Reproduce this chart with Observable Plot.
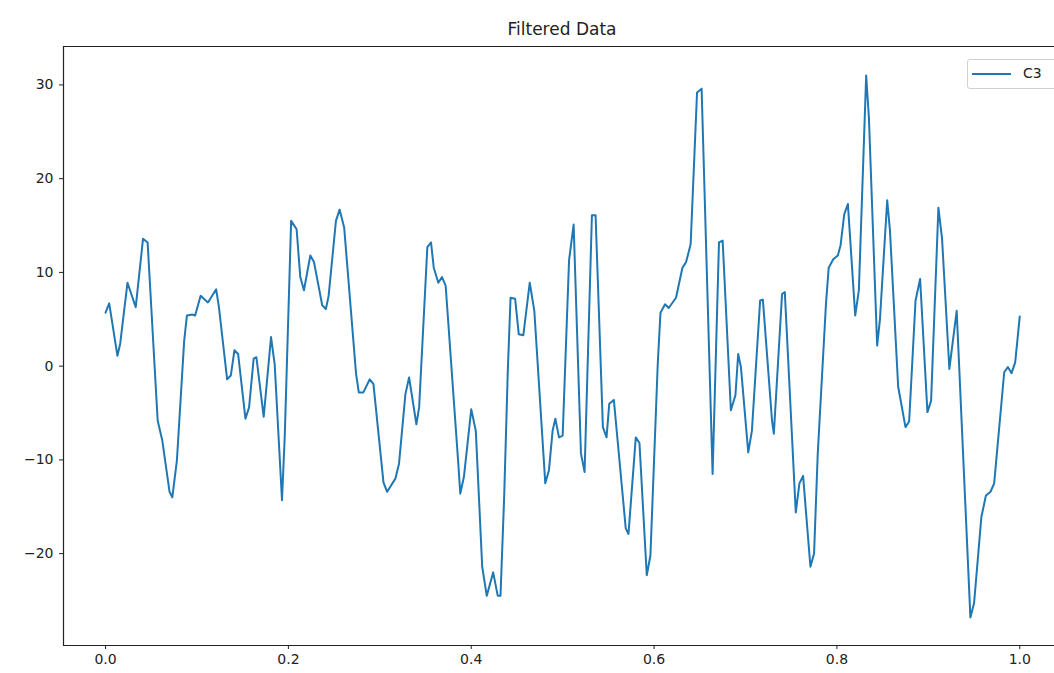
<!DOCTYPE html>
<html>
<head>
<meta charset="utf-8">
<script src="https://cdn.jsdelivr.net/npm/d3@7"></script>
<script src="https://cdn.jsdelivr.net/npm/@observablehq/plot@0.6"></script>
<style>
  html, body { margin: 0; padding: 0; background: #fff; }
  #wrap { position: relative; width: 1054px; height: 673px; overflow: hidden; font-family: "DejaVu Sans", sans-serif; }
  #title { position: absolute; left: 63px; width: 998px; top: 0; height: 45px; padding-top: 12px; box-sizing: border-box; line-height: 34px; text-align: center; font-size: 17px; color: #222; }
  #chart { position: absolute; left: 0; top: 45px; }
  #legend { position: absolute; left: 967px; top: 59px; width: 110px; height: 30px; box-sizing: border-box; border: 1px solid #d0d0d0; border-radius: 3px; background: #fff; }
  #legend svg { position: absolute; left: 4px; top: 12px; }
  #legend span { position: absolute; left: 55px; top: 5px; font-size: 14px; color: #222; }
</style>
</head>
<body>
<div id="wrap">
  <div id="title">Filtered Data</div>
  <div id="chart"></div>
  <div id="legend"><svg width="40" height="4"><line x1="0" y1="2" x2="39" y2="2" stroke="#1f77b4" stroke-width="2"/></svg><span>C3</span></div>
</div>
<script>
const seriesName = "C3";
const xTicks = [0, 0.2, 0.4, 0.6, 0.8, 1.0];
const yTicks = [-20, -10, 0, 10, 20, 30];
const xs = [0.000,0.004,0.013,0.016,0.024,0.033,0.041,0.046,0.057,0.062,0.070,0.073,0.078,0.086,0.089,0.095,0.098,0.104,0.112,0.121,0.124,0.133,0.137,0.141,0.145,0.153,0.157,0.162,0.165,0.173,0.181,0.185,0.193,0.196,0.203,0.209,0.213,0.217,0.224,0.228,0.237,0.241,0.244,0.252,0.256,0.261,0.274,0.277,0.282,0.289,0.293,0.304,0.308,0.317,0.321,0.328,0.332,0.340,0.343,0.352,0.356,0.359,0.364,0.368,0.372,0.386,0.388,0.392,0.400,0.405,0.412,0.417,0.424,0.429,0.432,0.436,0.440,0.443,0.448,0.452,0.457,0.464,0.469,0.481,0.485,0.489,0.492,0.496,0.500,0.507,0.512,0.520,0.524,0.532,0.536,0.544,0.548,0.551,0.556,0.569,0.572,0.580,0.584,0.592,0.596,0.604,0.607,0.612,0.616,0.624,0.631,0.635,0.640,0.647,0.652,0.664,0.671,0.675,0.684,0.689,0.692,0.695,0.703,0.707,0.716,0.719,0.729,0.731,0.740,0.743,0.755,0.759,0.763,0.771,0.775,0.779,0.788,0.791,0.796,0.801,0.804,0.808,0.812,0.820,0.824,0.832,0.835,0.844,0.847,0.855,0.858,0.867,0.875,0.879,0.886,0.891,0.899,0.903,0.911,0.915,0.923,0.931,0.946,0.950,0.958,0.963,0.968,0.972,0.983,0.987,0.991,0.995,1.000];
const ys = [5.7,6.7,1.1,2.4,8.9,6.3,13.6,13.2,-5.8,-7.9,-13.4,-14.0,-10.1,2.7,5.4,5.5,5.4,7.5,6.8,8.2,6.3,-1.4,-1.0,1.7,1.3,-5.6,-4.4,0.8,0.95,-5.4,3.1,0.2,-14.3,-7.5,15.5,14.6,9.5,8.1,11.8,11.1,6.5,6.1,7.5,15.5,16.7,14.8,-0.8,-2.8,-2.8,-1.4,-1.9,-12.4,-13.4,-12.0,-10.4,-3.0,-1.2,-6.2,-4.4,12.7,13.2,10.5,8.9,9.5,8.6,-10.6,-13.6,-11.8,-4.6,-6.9,-21.4,-24.5,-22.0,-24.5,-24.5,-14,-0.5,7.3,7.2,3.4,3.3,8.9,5.9,-12.5,-11.1,-6.9,-5.6,-7.6,-7.4,11.3,15.1,-9.3,-11.3,16.1,16.1,-6.5,-7.6,-4.0,-3.6,-17.3,-17.9,-7.6,-8.2,-22.3,-20.2,0.2,5.7,6.6,6.2,7.3,10.5,11.1,13.0,29.2,29.6,-11.5,13.2,13.4,-4.7,-3.1,1.3,-0.1,-9.2,-6.9,7.0,7.1,-5.8,-7.2,7.7,7.9,-15.6,-12.5,-11.7,-21.4,-20.0,-9.4,6.6,10.5,11.4,11.8,12.9,16.2,17.3,5.4,8.1,31.0,26.5,2.2,4.9,17.7,14.5,-2.2,-6.5,-5.9,7.0,9.3,-4.9,-3.7,16.9,13.6,-0.3,5.9,-26.8,-25.3,-16.1,-13.8,-13.4,-12.5,-0.65,-0.1,-0.75,0.4,5.3];
const xDomain = [-0.046, 1.038];
const yDomain = [-29.8, 34.1];

const data = xs.map((x, i) => ({x, y: ys[i], series: seriesName}));

const chart = Plot.plot({
  width: 1054,
  height: 628,
  marginTop: 1,
  marginBottom: 28,
  marginLeft: 63,
  marginRight: 0,
  x: {domain: xDomain},
  y: {domain: yDomain},
  style: {fontFamily: "DejaVu Sans, sans-serif", fontSize: "14px", color: "#222", background: "#fff"},
  marks: [
    Plot.ruleX([xDomain[0]], {stroke: "#222", strokeWidth: 1.2}),
    Plot.ruleY([yDomain[0], yDomain[1]], {stroke: "#222", strokeWidth: 1.2}),
    Plot.axisX({ticks: xTicks, tickFormat: d3.format(".1f"), tickSize: 4, tickPadding: 5, label: null, stroke: "#222"}),
    Plot.axisY({ticks: yTicks, tickSize: 4, tickPadding: 6, label: null, stroke: "#222"}),
    Plot.line(data, {x: "x", y: "y", stroke: "#1f77b4", strokeWidth: 2})
  ]
});
document.getElementById("chart").appendChild(chart);
</script>
</body>
</html>
